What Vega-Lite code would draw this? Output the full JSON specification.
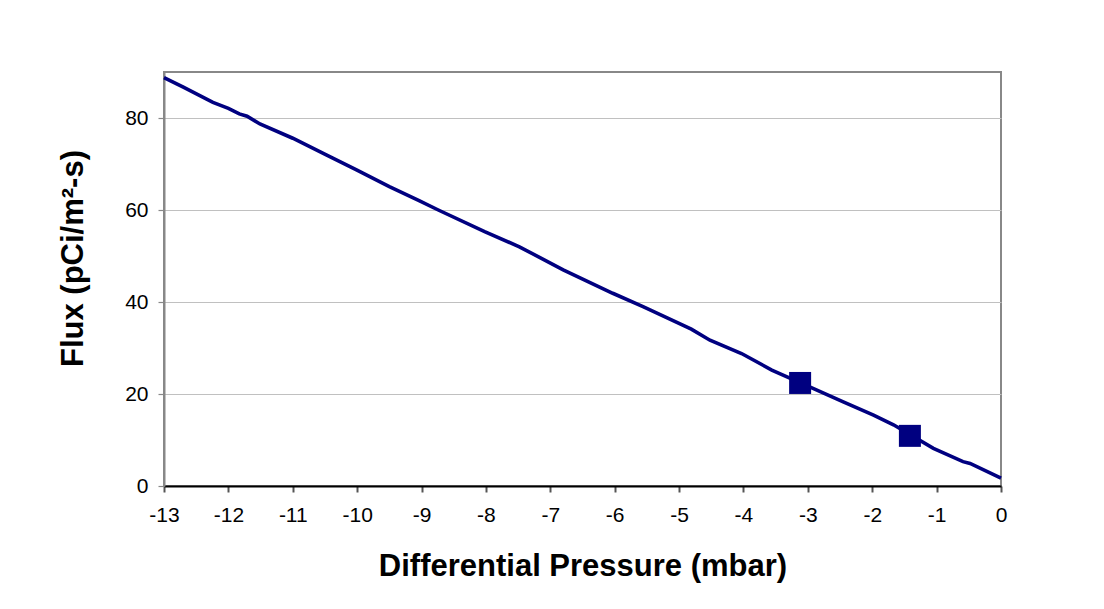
{
  "$schema": "https://vega.github.io/schema/vega-lite/v6.json",
  "autosize": {"type": "none"},
  "padding": {"left": 164, "top": 72, "right": 103, "bottom": 123},
  "width": 837,
  "height": 414,
  "background": "white",
  "config": {
    "font": "Liberation Sans",
    "view": {"stroke": "#888888", "strokeWidth": 2},
    "axis": {"labelFont": "Liberation Sans", "titleFont": "Liberation Sans", "labelColor": "black", "titleColor": "black"}
  },
  "datasets": {
    "curve": [
      {"dp": -13.0, "flux": 88.8},
      {"dp": -12.7, "flux": 86.7},
      {"dp": -12.24, "flux": 83.4},
      {"dp": -12.0, "flux": 82.1},
      {"dp": -11.83, "flux": 80.9},
      {"dp": -11.71, "flux": 80.4},
      {"dp": -11.51, "flux": 78.7},
      {"dp": -11.0, "flux": 75.6},
      {"dp": -10.48, "flux": 72.0},
      {"dp": -10.01, "flux": 68.7},
      {"dp": -9.5, "flux": 65.1},
      {"dp": -9.03, "flux": 62.0},
      {"dp": -8.74, "flux": 60.0},
      {"dp": -8.02, "flux": 55.3},
      {"dp": -7.48, "flux": 52.0},
      {"dp": -6.8, "flux": 47.0},
      {"dp": -6.03, "flux": 41.9},
      {"dp": -5.56, "flux": 39.0},
      {"dp": -4.81, "flux": 34.1},
      {"dp": -4.52, "flux": 31.7},
      {"dp": -4.03, "flux": 28.8},
      {"dp": -3.56, "flux": 25.2},
      {"dp": -2.92, "flux": 21.2},
      {"dp": -2.45, "flux": 18.3},
      {"dp": -1.98, "flux": 15.4},
      {"dp": -1.67, "flux": 13.3},
      {"dp": -1.05, "flux": 8.2},
      {"dp": -0.59, "flux": 5.3},
      {"dp": -0.48, "flux": 4.9},
      {"dp": 0.0, "flux": 1.7}
    ],
    "points": [
      {"dp": -3.12, "flux": 22.4},
      {"dp": -1.415, "flux": 10.9}
    ]
  },
  "layer": [
    {
      "data": {"name": "curve"},
      "mark": {"type": "line", "color": "#000080", "strokeWidth": 3.6, "clip": false},
      "encoding": {
        "x": {
          "field": "dp", "type": "quantitative",
          "scale": {"domain": [-13, 0], "nice": false, "zero": false},
          "axis": {
            "title": "Differential Pressure (mbar)",
            "values": [-13, -12, -11, -10, -9, -8, -7, -6, -5, -4, -3, -2, -1, 0],
            "labelExpr": "'' + datum.value",
            "grid": false,
            "domainColor": "black", "domainWidth": 2,
            "tickColor": "#555555", "tickWidth": 2, "tickSize": 6,
            "labelFontSize": 21, "labelPadding": 12, "labelFlush": false, "labelOverlap": false,
            "titleFontSize": 31, "titleFontWeight": "bold", "titlePadding": 26
          }
        },
        "y": {
          "field": "flux", "type": "quantitative",
          "scale": {"domain": [0, 90], "nice": false},
          "axis": {
            "title": "Flux (pCi/m²-s)",
            "values": [0, 20, 40, 60, 80],
            "labelExpr": "'' + datum.value",
            "grid": true, "gridColor": "#c0c0c0", "gridWidth": 1.2,
            "domainColor": "#888888", "domainWidth": 2,
            "tickColor": "#888888", "tickWidth": 1.2, "tickSize": 6,
            "labelFontSize": 21, "labelPadding": 10, "labelFlush": false, "labelOverlap": false,
            "titleFontSize": 31, "titleFontWeight": "bold", "titlePadding": 35, "titleY": 186
          }
        }
      }
    },
    {
      "data": {"name": "points"},
      "mark": {"type": "square", "color": "#000080", "opacity": 1, "size": 484, "filled": true},
      "encoding": {
        "x": {"field": "dp", "type": "quantitative"},
        "y": {"field": "flux", "type": "quantitative"}
      }
    }
  ]
}
